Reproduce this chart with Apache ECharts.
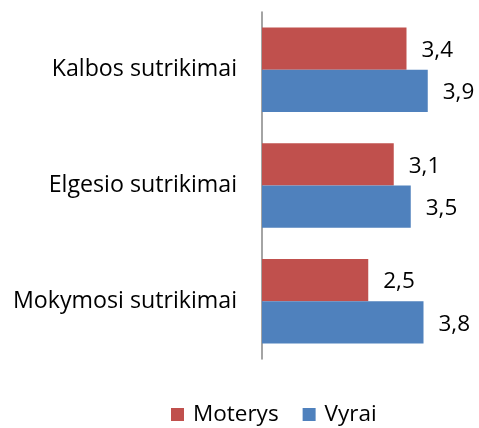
<!DOCTYPE html>
<html>
<head>
<meta charset="utf-8">
<script src="https://cdn.jsdelivr.net/npm/echarts@6/dist/echarts.min.js"></script>
<style>
    html, body {margin: 0; padding: 0; background: #fff;}
    #main {width: 479px; height: 428px;}
</style>
</head>
<body>
<div id="main"></div>
<script>
    var categories = ['Mokymosi sutrikimai', 'Elgesio sutrikimai', 'Kalbos sutrikimai'];
    var seriesNames = ['Moterys', 'Vyrai'];
    var moterys = [2.5, 3.1, 3.4];
    var vyrai = [3.8, 3.5, 3.9];

    var fontFamily = '"Open Sans", "Noto Sans", sans-serif';

    (function (charts) {
        var labelOpt = {
            show: true, position: 'right', distance: 15, offset: [0, 2], color: '#000',
            fontSize: 22.5, fontFamily: fontFamily,
            formatter: function (p) {
                return p.value.toFixed(1).replace('.', ',');
            }
        };
        charts.setOption({
            animation: false,
            grid: {left: 262, right: 4.5, top: 12, bottom: 69, containLabel: false},
            legend: {
                data: seriesNames, top: 398, left: 166, itemGap: 24,
                itemWidth: 13, itemHeight: 13, icon: 'rect',
                textStyle: {fontSize: 22.5, fontFamily: fontFamily, color: '#000', padding: [0, 0, 0, 4]}
            },
            xAxis: {
                type: 'value', min: 0, max: 5, show: false
            },
            yAxis: {
                type: 'category', data: categories,
                axisLine: {show: true, lineStyle: {color: '#868686', width: 1.5}},
                axisTick: {show: false},
                axisLabel: {margin: 25, fontSize: 23.2, fontFamily: fontFamily, color: '#000'}
            },
            series: [
                {
                    name: seriesNames[0], type: 'bar', data: moterys,
                    barCategoryGap: '27%', barGap: '0%',
                    itemStyle: {color: '#C0504D'}, label: labelOpt
                },
                {
                    name: seriesNames[1], type: 'bar', data: vyrai,
                    barCategoryGap: '27%', barGap: '0%',
                    itemStyle: {color: '#4F81BD'}, label: labelOpt
                }
            ]
        });
    })(echarts.init(document.getElementById('main')));
</script>
</body>
</html>
